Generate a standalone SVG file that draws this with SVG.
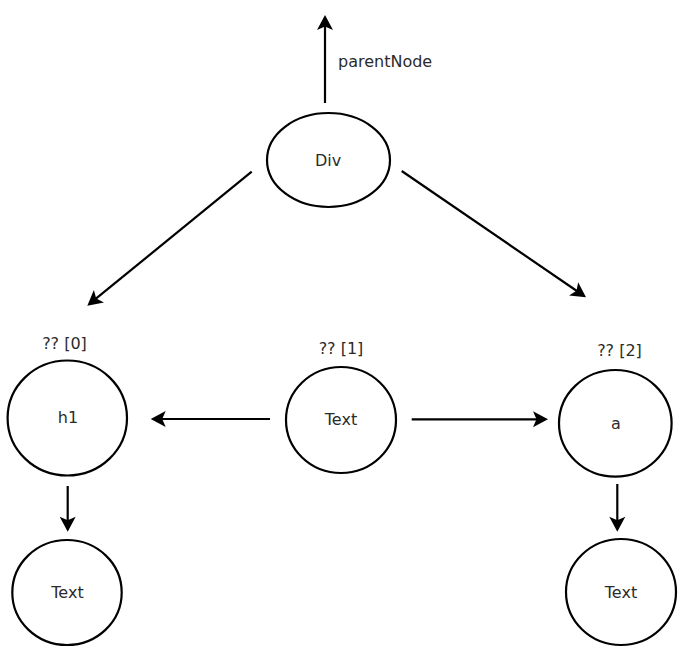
<svg xmlns="http://www.w3.org/2000/svg" width="689" height="659" viewBox="0 0 689 659">
<style>
.n{fill:#fff;stroke:#000;stroke-width:2.2}
.t{font-family:"DejaVu Sans",sans-serif;font-size:16px;fill:#2b2b2b;text-anchor:middle}
.c{stroke:#000;stroke-width:2.2;fill:none;marker-end:url(#ah)}
</style>
<defs>
<marker id="ah" viewBox="-12 -9 17 18" refX="0" refY="0" markerWidth="17" markerHeight="18" markerUnits="userSpaceOnUse" orient="auto">
<path d="M4,0 L-11,-8 L-7.5,0 L-11,8 Z" fill="#000"/>
</marker>
</defs>
<rect width="689" height="659" fill="#fff"/>
<g id="connectors">
<line class="c" x1="325" y1="103" x2="325" y2="19"/>
<line class="c" x1="251.7" y1="171.7" x2="90.4" y2="303.2"/>
<line class="c" x1="401.7" y1="171" x2="582.7" y2="295"/>
<line class="c" x1="270" y1="419" x2="154.7" y2="419"/>
<line class="c" x1="411.7" y1="419.3" x2="544" y2="419.3"/>
<line class="c" x1="67.7" y1="486" x2="67.7" y2="527.7"/>
<line class="c" x1="617.3" y1="484" x2="617.3" y2="527.7"/>
</g>
<g id="label-parentNode"><text class="t" x="338" y="67" style="text-anchor:start">parentNode</text></g>
<g id="node-div">
<ellipse class="n" cx="328.5" cy="160" rx="61.5" ry="47"/>
<text class="t" x="328" y="165.5">Div</text>
</g>
<g id="node-h1">
<text class="t" x="64.5" y="349">?? [0]</text>
<ellipse class="n" cx="67.3" cy="418" rx="59.7" ry="57.5"/>
<text class="t" x="68" y="423">h1</text>
</g>
<g id="node-text1">
<text class="t" x="341" y="354">?? [1]</text>
<ellipse class="n" cx="341" cy="420" rx="55" ry="53"/>
<text class="t" x="341" y="425">Text</text>
</g>
<g id="node-a">
<text class="t" x="619.5" y="356">?? [2]</text>
<ellipse class="n" cx="615.3" cy="423.3" rx="56.3" ry="53.3"/>
<text class="t" x="616" y="429">a</text>
</g>
<g id="node-text-left">
<ellipse class="n" cx="67" cy="592.5" rx="54.7" ry="52.5"/>
<text class="t" x="67.5" y="597.5">Text</text>
</g>
<g id="node-text-right">
<ellipse class="n" cx="621" cy="592" rx="55" ry="53"/>
<text class="t" x="621" y="597.5">Text</text>
</g>
</svg>
